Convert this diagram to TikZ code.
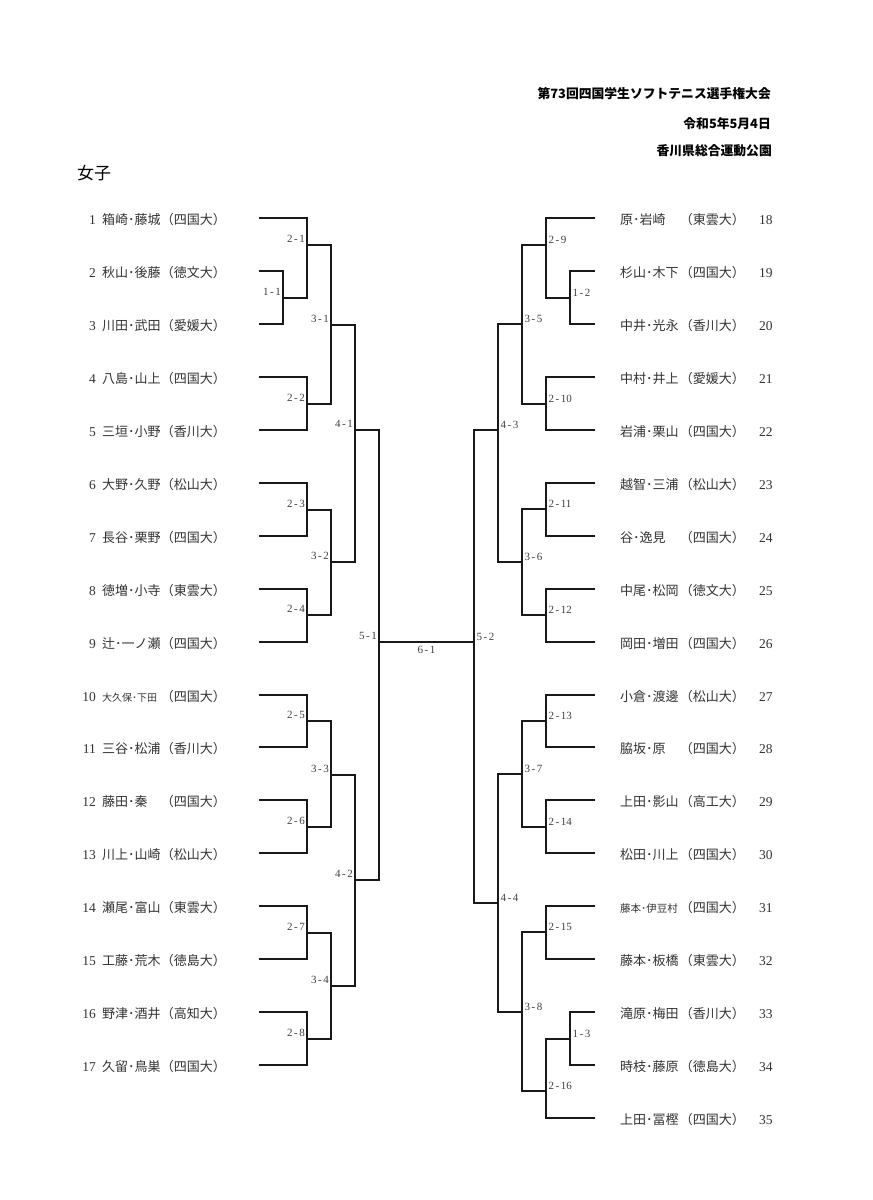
\documentclass[tikz,border=0pt]{standalone}
\usepackage{fontspec}
\setmainfont{Liberation Serif}
\newfontfamily\jp{Noto Sans CJK JP}
\usetikzlibrary{calc}
\newcommand\mlab[2]{#1\kern1.5pt-\kern1.5pt#2}
\begin{document}
\begin{tikzpicture}[x=1pt,y=-1pt,
  br/.style={line width=2pt,draw=black!90},
  lab/.style={font=\fontsize{11}{11}\selectfont,inner sep=0pt,text=black!75},
  labl/.style={lab,anchor=base east,xshift=-2pt,yshift=2.5pt},
  labr/.style={lab,anchor=base west,xshift=2.5pt,yshift=2pt},
  nm/.style={font=\jp\fontsize{13}{13}\selectfont,inner sep=0pt,text=black!80},
  num/.style={font=\fontsize{13.5}{13.5}\selectfont,inner sep=0pt,text=black!80},
  hd/.style={font=\jp\bfseries\fontsize{12.8}{12.8}\selectfont,inner sep=0pt,anchor=base east}]
\useasboundingbox (0,0) rectangle (873,1200);
\fill[white] (0,0) rectangle (873,1200);

% header
\node[hd] (h1) at (771,98) {第73回四国学生ソフトテニス選手権大会};
\node[hd] (h2) at (771,128) {令和5年5月4日};
\node[hd] (h3) at (772,155) {香川県総合運動公園};
\node[font=\jp\fontsize{17}{17}\selectfont,inner sep=0pt,anchor=base west] (title) at (77,179) {女子};

% match points (vertical x, output y)
\coordinate (m11) at (283,298);
\coordinate (m21) at (307,245);
\coordinate (m22) at (307,404);
\coordinate (m23) at (307,510);
\coordinate (m24) at (307,615);
\coordinate (m25) at (307,721);
\coordinate (m26) at (307,827);
\coordinate (m27) at (307,933);
\coordinate (m28) at (307,1039);
\coordinate (m31) at (331,325);
\coordinate (m32) at (331,562);
\coordinate (m33) at (331,775);
\coordinate (m34) at (331,986);
\coordinate (m41) at (355,430);
\coordinate (m42) at (355,880);
\coordinate (m51) at (379,642);
\coordinate (m12) at (570,298);
\coordinate (m13) at (570,1039);
\coordinate (m29) at (546,245);
\coordinate (m210) at (546,404);
\coordinate (m211) at (546,509);
\coordinate (m212) at (546,615);
\coordinate (m213) at (546,721);
\coordinate (m214) at (546,827);
\coordinate (m215) at (546,932);
\coordinate (m216) at (546,1091);
\coordinate (m35) at (522,324);
\coordinate (m36) at (522,562);
\coordinate (m37) at (522,774);
\coordinate (m38) at (522,1012);
\coordinate (m43) at (498,430);
\coordinate (m44) at (498,903);
\coordinate (m52) at (474,642);

% left teams
\foreach \i/\nm/\un in {1/{箱崎･藤城}/四国大,2/{秋山･後藤}/徳文大,3/{川田･武田}/愛媛大,
  4/{八島･山上}/四国大,5/{三垣･小野}/香川大,6/{大野･久野}/松山大,7/{長谷･栗野}/四国大,
  8/{徳増･小寺}/東雲大,9/{辻･一ノ瀬}/四国大,10/{{\fontsize{10}{10}\selectfont 大久保･下田}}/四国大,
  11/{三谷･松浦}/香川大,12/{藤田･秦}/四国大,13/{川上･山崎}/松山大,14/{瀬尾･富山}/東雲大,
  15/{工藤･荒木}/徳島大,16/{野津･酒井}/高知大,17/{久留･鳥巣}/四国大}{
  \pgfmathsetmacro\ty{round(218+52.95*(\i-1))}
  \coordinate (t\i) at (259,\ty);
  \node[num,anchor=base east] (n\i) at (96,\ty+6) {\i};
  \node[nm,anchor=base west] (a\i) at (102,\ty+6) {\nm};
  \node[nm,anchor=base east] (u\i) at (226,\ty+6) {（\un）};
}
% right teams
\foreach \i/\nm/\un in {18/{原･岩崎}/東雲大,19/{杉山･木下}/四国大,20/{中井･光永}/香川大,
  21/{中村･井上}/愛媛大,22/{岩浦･栗山}/四国大,23/{越智･三浦}/松山大,24/{谷･逸見}/四国大,
  25/{中尾･松岡}/徳文大,26/{岡田･増田}/四国大,27/{小倉･渡邊}/松山大,28/{脇坂･原}/四国大,
  29/{上田･影山}/高工大,30/{松田･川上}/四国大,31/{{\fontsize{10.5}{10.5}\selectfont 藤本･伊豆村}}/四国大,
  32/{藤本･板橋}/東雲大,33/{滝原･梅田}/香川大,34/{時枝･藤原}/徳島大,35/{上田･冨樫}/四国大}{
  \pgfmathsetmacro\ty{round(218+52.95*(\i-18))}
  \coordinate (t\i) at (595,\ty);
  \node[num,anchor=base west] (n\i) at (759,\ty+6) {\i};
  \node[nm,anchor=base west] (a\i) at (620,\ty+6) {\nm};
  \node[nm,anchor=base east] (u\i) at (745,\ty+6) {（\un）};
}

% team lines
\foreach \a/\b in {1/m21,2/m11,3/m11,4/m22,5/m22,6/m23,7/m23,8/m24,9/m24,10/m25,11/m25,
  12/m26,13/m26,14/m27,15/m27,16/m28,17/m28,
  18/m29,19/m12,20/m12,21/m210,22/m210,23/m211,24/m211,25/m212,26/m212,27/m213,28/m213,
  29/m214,30/m214,31/m215,32/m215,33/m13,34/m13,35/m216}
  \draw[br] (t\a) -| (\b);
% match lines
\foreach \a/\b in {m11/m21,m21/m31,m22/m31,m23/m32,m24/m32,m25/m33,m26/m33,m27/m34,m28/m34,
  m31/m41,m32/m41,m33/m42,m34/m42,m41/m51,m42/m51,
  m12/m29,m29/m35,m210/m35,m211/m36,m212/m36,m213/m37,m214/m37,m215/m38,m13/m216,m216/m38,
  m35/m43,m36/m43,m37/m44,m38/m44,m43/m52,m44/m52}
  \draw[br] (\a) -| (\b);
\draw[br] (m51) -- (m52);

% labels
\foreach \c/\p/\q in {11/1/1,21/2/1,22/2/2,23/2/3,24/2/4,25/2/5,26/2/6,27/2/7,28/2/8,
  31/3/1,32/3/2,33/3/3,34/3/4,41/4/1,42/4/2,51/5/1}
  \node[labl] (l\c) at (m\c) {\mlab{\p}{\q}};
\foreach \c/\p/\q in {12/1/2,13/1/3,29/2/9,210/2/10,211/2/11,212/2/12,213/2/13,214/2/14,
  215/2/15,216/2/16,35/3/5,36/3/6,37/3/7,38/3/8,43/4/3,44/4/4,52/5/2}
  \node[labr] (l\c) at (m\c) {\mlab{\p}{\q}};
\node[lab,anchor=base] (l61) at ($(m51)!0.5!(m52)+(0,11.5)$) {\mlab{6}{1}};
\end{tikzpicture}
\end{document}
